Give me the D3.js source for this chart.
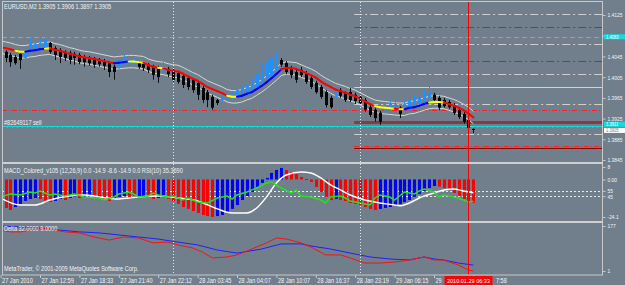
<!DOCTYPE html>
<html>
<head>
<meta charset="utf-8">
<script src="https://cdn.jsdelivr.net/npm/d3@7"></script>
<style>
  body { margin: 0; background: #707f8b; }
  svg { display: block; }
  text { font-family: "Liberation Sans", Arial, sans-serif; }
</style>
</head>
<body>
<svg id="chart" width="625" height="285"></svg>
<script>
// ---- data: EURUSD M2, 97 bars ----
const candleOpen = [1.4057,1.4054,1.4048,1.4044,1.4050,1.4042,1.4054,1.4057,1.4061,1.4063,
  1.4071,1.4061,1.4057,1.4054,1.4052,1.4050,1.4048,1.4044,1.4042,1.4042,
  1.4038,1.4036,1.4032,1.4025,1.4025,1.4032,1.4030,1.4030,1.4032,1.4030,
  1.4029,1.4025,1.4023,1.4015,1.4021,1.4019,1.4013,1.4007,1.4003,1.4000,
  1.3994,1.3984,1.3976,1.3967,1.3961,1.3961,1.3963,1.3965,1.3967,1.3969,
  1.3971,1.3976,1.3984,1.3992,1.4002,1.4009,1.4019,1.4038,1.4032,1.4023,
  1.4015,1.4019,1.4013,1.4003,1.3994,1.3986,1.3976,1.3965,1.3967,1.3980,
  1.3975,1.3976,1.3971,1.3967,1.3961,1.3947,1.3942,1.3936,1.3938,1.3946,
  1.3946,1.3946,1.3942,1.3947,1.3949,1.3955,1.3957,1.3965,1.3971,1.3965,
  1.3961,1.3957,1.3951,1.3942,1.3934,1.3922,1.3905];
const candleHigh = [1.4061,1.4057,1.4052,1.4048,1.4054,1.4057,1.4081,1.4075,1.4077,1.4086,
  1.4073,1.4065,1.4061,1.4057,1.4056,1.4054,1.4052,1.4048,1.4046,1.4044,
  1.4042,1.4040,1.4036,1.4029,1.4044,1.4048,1.4044,1.4042,1.4036,1.4034,
  1.4032,1.4029,1.4027,1.4034,1.4025,1.4023,1.4017,1.4011,1.4007,1.4003,
  1.3998,1.3988,1.3980,1.3971,1.3963,1.3973,1.3975,1.3978,1.3984,1.3988,
  1.3994,1.4003,1.4019,1.4030,1.4042,1.4050,1.4054,1.4042,1.4036,1.4027,
  1.4019,1.4025,1.4017,1.4007,1.3998,1.3990,1.3980,1.3969,1.3980,1.3984,
  1.3978,1.3984,1.3975,1.3971,1.3965,1.3951,1.3946,1.3940,1.3953,1.3961,
  1.3957,1.3949,1.3959,1.3969,1.3971,1.3975,1.3980,1.3986,1.3975,1.3969,
  1.3965,1.3961,1.3955,1.3946,1.3938,1.3926,1.3906];
const candleLow = [1.4044,1.4034,1.4025,1.4029,1.4021,1.4038,1.4052,1.4056,1.4059,1.4061,
  1.4050,1.4038,1.4032,1.4036,1.4030,1.4029,1.4030,1.4025,1.4027,1.4023,
  1.4025,1.4019,1.4005,1.4000,1.4021,1.4029,1.4027,1.4027,1.4021,1.4017,
  1.4013,1.4000,1.3994,1.4011,1.4005,1.3996,1.3992,1.3984,1.3980,1.3975,
  1.3961,1.3955,1.3947,1.3942,1.3951,1.3959,1.3961,1.3963,1.3965,1.3967,
  1.3969,1.3975,1.3982,1.3990,1.4000,1.4007,1.4017,1.4025,1.4011,1.4003,
  1.3994,1.4005,1.3992,1.3982,1.3973,1.3963,1.3946,1.3944,1.3965,1.3965,
  1.3957,1.3957,1.3953,1.3951,1.3938,1.3928,1.3919,1.3913,1.3936,1.3944,
  1.3944,1.3926,1.3940,1.3946,1.3947,1.3953,1.3955,1.3963,1.3957,1.3942,
  1.3946,1.3944,1.3932,1.3924,1.3915,1.3903,1.3897];
const candleClose = [1.4048,1.4042,1.4034,1.4032,1.4038,1.4054,1.4073,1.4069,1.4071,1.4077,
  1.4054,1.4048,1.4044,1.4042,1.4038,1.4042,1.4034,1.4034,1.4032,1.4029,
  1.4030,1.4027,1.4015,1.4015,1.4038,1.4042,1.4040,1.4038,1.4025,1.4023,
  1.4019,1.4009,1.4005,1.4023,1.4011,1.4000,1.3996,1.3990,1.3986,1.3980,
  1.3971,1.3961,1.3961,1.3946,1.3955,1.3969,1.3971,1.3975,1.3980,1.3984,
  1.3990,1.4000,1.4013,1.4025,1.4034,1.4044,1.4048,1.4029,1.4015,1.4009,
  1.4000,1.4009,1.3996,1.3986,1.3976,1.3967,1.3951,1.3947,1.3975,1.3969,
  1.3961,1.3961,1.3959,1.3955,1.3942,1.3932,1.3926,1.3919,1.3947,1.3955,
  1.3951,1.3934,1.3953,1.3961,1.3963,1.3967,1.3969,1.3975,1.3961,1.3946,
  1.3949,1.3947,1.3936,1.3928,1.3919,1.3907,1.3905];

// colored moving average and its envelope
const maLine = [1.4063,1.4061,1.4059,1.4056,1.4054,1.4054,1.4056,1.4057,1.4059,1.4060,
  1.4061,1.4058,1.4056,1.4053,1.4050,1.4048,1.4045,1.4043,1.4042,1.4040,
  1.4038,1.4036,1.4034,1.4032,1.4033,1.4034,1.4035,1.4035,1.4034,1.4033,
  1.4028,1.4025,1.4023,1.4022,1.4019,1.4017,1.4016,1.4012,1.4007,1.4002,
  1.3998,1.3992,1.3986,1.3982,1.3978,1.3974,1.3969,1.3967,1.3967,1.3969,
  1.3973,1.3976,1.3982,1.3988,1.3995,1.4003,1.4011,1.4020,1.4023,1.4022,
  1.4021,1.4017,1.4013,1.4009,1.4004,1.3997,1.3991,1.3986,1.3981,1.3978,
  1.3975,1.3971,1.3968,1.3963,1.3958,1.3953,1.3949,1.3947,1.3946,1.3945,
  1.3944,1.3943,1.3943,1.3946,1.3947,1.3950,1.3953,1.3956,1.3957,1.3957,
  1.3956,1.3953,1.3950,1.3946,1.3941,1.3935,1.3927];
const maTrendRuns = [['r',4],['y',2],['b',4],['y',1],['r',13],['b',3],['y',3],['r',3],['y',1],
  ['r',13],['y',2],['b',9],['r',19],['y',4],['r',1],['y',1],['b',5],['y',3],['r',6]];
const bandHigh = [1.4075,1.4073,1.4071,1.4068,1.4066,1.4066,1.4068,1.4069,1.4071,1.4072,
  1.4073,1.4070,1.4068,1.4065,1.4062,1.4060,1.4057,1.4055,1.4054,1.4052,
  1.4050,1.4048,1.4046,1.4044,1.4045,1.4046,1.4047,1.4047,1.4046,1.4045,
  1.4040,1.4037,1.4035,1.4034,1.4031,1.4029,1.4028,1.4024,1.4019,1.4014,
  1.4010,1.4004,1.3998,1.3994,1.3990,1.3986,1.3981,1.3979,1.3979,1.3981,
  1.3985,1.3988,1.3994,1.4000,1.4007,1.4015,1.4023,1.4032,1.4035,1.4034,
  1.4033,1.4029,1.4025,1.4021,1.4016,1.4009,1.4003,1.3998,1.3993,1.3990,
  1.3987,1.3983,1.3980,1.3975,1.3970,1.3965,1.3961,1.3959,1.3958,1.3957,
  1.3956,1.3955,1.3955,1.3958,1.3959,1.3962,1.3965,1.3968,1.3969,1.3969,
  1.3968,1.3965,1.3962,1.3958,1.3953,1.3947,1.3939];
const bandLow = [1.4051,1.4049,1.4047,1.4044,1.4042,1.4042,1.4044,1.4045,1.4047,1.4048,
  1.4049,1.4046,1.4044,1.4041,1.4038,1.4036,1.4033,1.4031,1.4030,1.4028,
  1.4026,1.4024,1.4022,1.4020,1.4021,1.4022,1.4023,1.4023,1.4022,1.4021,
  1.4016,1.4013,1.4011,1.4010,1.4007,1.4005,1.4004,1.4000,1.3995,1.3990,
  1.3986,1.3980,1.3974,1.3970,1.3966,1.3962,1.3957,1.3955,1.3955,1.3957,
  1.3961,1.3964,1.3970,1.3976,1.3983,1.3991,1.3999,1.4008,1.4011,1.4010,
  1.4009,1.4005,1.4001,1.3997,1.3992,1.3985,1.3979,1.3974,1.3969,1.3966,
  1.3963,1.3959,1.3956,1.3951,1.3946,1.3941,1.3937,1.3935,1.3934,1.3933,
  1.3932,1.3931,1.3931,1.3934,1.3935,1.3938,1.3941,1.3944,1.3945,1.3945,
  1.3944,1.3941,1.3938,1.3934,1.3929,1.3923,1.3915];

// MACD_Colored histogram, signal line, RSI(10)
const macdHist = [-16.4,-18.3,-19.6,-17.7,-15.7,-13.8,-12.5,-11.9,-12.5,-13.8,
  -14.5,-13.8,-12.5,-13.2,-11.9,-11.2,-11.9,-11.2,-10.6,-11.2,
  -11.9,-13.2,-13.8,-12.5,-11.2,-10.6,-11.2,-11.9,-11.2,-10.6,
  -11.2,-12.5,-11.9,-11.2,-12.5,-13.8,-15.7,-17.7,-18.9,-20.2,
  -21.5,-22.8,-23.5,-24.1,-23.5,-22.8,-20.9,-18.9,-16.4,-13.2,
  -10.6,-8.0,-4.8,-2.2,1.0,4.2,6.1,7.4,6.1,4.8,
  3.5,1.6,0.3,-1.6,-4.8,-8.0,-11.2,-13.2,-12.5,-13.2,
  -13.8,-15.1,-15.7,-16.4,-17.7,-18.9,-19.6,-18.9,-18.3,-17.7,
  -16.4,-15.7,-14.5,-13.2,-11.2,-9.3,-7.4,-5.5,-4.2,-4.5,
  -5.5,-6.7,-8.7,-10.6,-12.5,-13.8,-14.9];
const macdColorRuns = [['r',3],['b',5],['r',3],['b',2],['r',1],['b',2],['r',1],['b',2],['r',4],['b',3],
  ['r',2],['b',2],['r',2],['b',2],['r',10],['b',14],['r',10],['b',1],['r',8],['b',12],['r',8]];
const macdSignal = [[0,-11.9],[4,-16.4],[7,-16.4],[10,-13.2],[14,-10.6],[17,-10.0],[20,-11.2],[24,-12.5],
  [28,-11.2],[32,-10.6],[36,-11.9],[40,-13.8],[44,-18.9],[47,-21.5],[50,-21.5],[52,-18.3],[54,-11.2],
  [56,-2.2],[58,2.9],[61,4.8],[63,4.2],[65,1.0],[67,-3.5],[69,-6.7],[71,-10.0],[74,-13.2],[77,-15.1],
  [80,-16.4],[81,-16.9],[83,-15.1],[85,-11.9],[88,-8.7],[90,-6.7],[92,-6.1],[94,-7.4],[96,-8.6]];
const rsi = [[0,43.4],[2,49],[4,47.2],[6,52.8],[7,50.9],[8,54.7],[10,47.2],[11,49],[13,45.3],[15,49],
  [17,43.4],[20,41.5],[21,37.7],[23,43.4],[24,49],[26,52.8],[27,49],[28,43.4],[30,45.3],[31,50.9],
  [32,47.2],[34,43.4],[35,45.3],[37,37.7],[38,41.5],[39,37.7],[40,34],[42,32],[44,41.5],[46,45.3],
  [47,39.6],[48,47.2],[50,52.8],[52,60.4],[54,69.8],[55,71.7],[57,60.4],[59,50.9],[60,56.6],[61,45.3],
  [63,43.4],[65,37.7],[66,32],[67,43.4],[69,45.3],[70,41.5],[71,35.8],[73,32],[75,28.3],[76,41.5],
  [77,47.2],[79,43.4],[80,37.7],[81,45.3],[82,52.8],[84,49],[85,54.7],[86,58.5],[88,52.8],[89,43.4],
  [90,47.2],[92,43.4],[94,37.7],[95,34],[96,35.37]];
const rsiLevels = [55, 45];

// Delta(32,9)
const deltaBlue = [[0,177],[4,173],[8,169],[12,161],[16,154],[20,150],[24,142],[28,134],[32,126],
  [36,114],[40,103],[44,83],[48,71],[53,87],[57,107],[61,107],[63,99],[67,87],[71,71],[75,56],
  [79,48],[83,44],[86,56],[88,48],[90,44],[93,32],[96,24]];
const deltaRed = [[0,161],[2,154],[4,154],[6,161],[9,169],[11,161],[13,154],[16,150],[19,134],
  [22,122],[25,134],[28,130],[31,111],[34,114],[36,103],[39,91],[41,75],[43,52],[46,56],[48,64],
  [50,79],[54,111],[56,130],[58,126],[61,111],[63,95],[66,64],[69,64],[71,52],[74,32],[77,32],
  [80,36],[83,44],[86,56],[88,44],[90,44],[93,24],[95,5],[96,1]];

// price levels / objects
const priceTicks = [1.4125, 1.4085, 1.4045, 1.4005, 1.3965, 1.3925, 1.3885, 1.3845];
const grayLevels = [1.4127, 1.4069, 1.4011, 1.3953, 1.3895];
const blueLevels = [1.4102, 1.4036];
const yellowLevels = [1.3986];
const brownLevels = [1.3919];
const redRightLevels = [1.3872];
const darkRedLevels = [1.3868];
const levelStartBar = 72;
const cyanDashLevels = [1.4083];
const redDashLevels = [1.3942];
const orderLevel = 1.3911;
const orderLabel = '#82649117 sell';
const bidPrice = 1.3905;
const separatorBars = [35, 73];
const cursorBar = 95;
const cursorLabel = '2010.01.29 06:33';

const macdTicks = [8, 0, -24.1];
const macdTickLabels = ['8', '0.00', '-24.1'];
const deltaTicks = [177, 1];

const timeBars = [0, 8, 16, 24, 32, 40, 48, 56, 64, 72, 80, 88, 96];
const timeLabels = ['27 Jan 2010', '27 Jan 12:59', '27 Jan 18:33', '27 Jan 21:40', '27 Jan 22:12',
  '28 Jan 03:45', '28 Jan 04:07', '28 Jan 10:07', '28 Jan 16:37', '28 Jan 23:19',
  '29 Jan 06:15', '29 Jan 06:25', '29 Jan 07:58'];

const titleText = 'EURUSD,M2  1.3905 1.3906 1.3897 1.3905';
const macdTitle = 'MACD_Colored_v105 (12,26,9) 0.0 -14.9 -8.6 -14.9 0.0  RSI(10) 35.3690';
const deltaTitle = 'Delta 32.0000 9.0000';
const copyright = 'MetaTrader, \u00a9 2001-2009 MetaQuotes Software Corp.';

// ---- layout ----
const W = 625, H = 285;
const left = 2, right = 602;
const frameCol = '#c8c8c8';
const textCol = '#f4f4f4';
const NARROW = 0.82;   // MT4 pixel font is narrower than Liberation Sans

const svg = d3.select('#chart');
svg.append('rect').attr('width', W).attr('height', H).attr('fill', '#707f8b');

const x = d3.scaleLinear().domain([0, 96]).range([0.6, 473.4]);
const yPrice = d3.scaleLinear().domain([1.3845, 1.4125]).range([160, 15]);
const yMacd = d3.scaleLinear().domain([-24.1, 8]).range([217, 167]);
const yRsi = d3.scaleLinear().domain([0, 100]).range([220, 167]);
const yDelta = d3.scaleLinear().domain([1, 177]).range([271, 226]);

const px = v => Math.round(v) + 0.5;

const defs = svg.append('defs');
[['clipMain', 2, 162], ['clipMacd', 164, 221], ['clipDelta', 223, 274]].forEach(([id, y0, y1]) => {
  defs.append('clipPath').attr('id', id)
    .append('rect').attr('x', left).attr('y', y0).attr('width', right - left).attr('height', y1 - y0);
});

const expand = runs => runs.flatMap(([c, n]) => Array(n).fill(c));
const maTrend = expand(maTrendRuns);
const macdColors = expand(macdColorRuns);
const trendCol = { r: '#ff0000', b: '#0000ff', y: '#ffff00' };

// ---- main pane ----
const main = svg.append('g').attr('clip-path', 'url(#clipMain)');

function levels(g, values, x0, stroke, width, dash) {
  g.selectAll(null).data(values).join('line')
    .attr('x1', x0).attr('x2', right)
    .attr('y1', d => px(yPrice(d))).attr('y2', d => px(yPrice(d)))
    .attr('stroke', stroke).attr('stroke-width', width)
    .attr('stroke-dasharray', dash || null);
}

const lx = x(levelStartBar) - 1;
levels(main, grayLevels, lx, '#cfcfcf', 1, '8,3,2,3');
levels(main, blueLevels, lx, '#3a48c8', 1, '8,3,2,3');
levels(main, yellowLevels, lx, '#e6e633', 1);
levels(main, brownLevels, lx, '#7d3f45', 3);
levels(main, redRightLevels, lx, '#ff2020', 1, '5,2,1,2');
levels(main, darkRedLevels, lx, '#8a0000', 1);
levels(main, cyanDashLevels, left, '#18d8e0', 1, '5,3');
levels(main, redDashLevels, left, '#ff2020', 1, '5,2,1,2');
levels(main, [orderLevel], left, '#18d8e0', 1);
main.selectAll(null).data([orderLevel]).join('line')
  .attr('x1', left).attr('x2', right)
  .attr('y1', d => px(yPrice(d)) + 1).attr('y2', d => px(yPrice(d)) + 1)
  .attr('stroke', '#30e030').attr('stroke-width', 1).attr('stroke-dasharray', '1,4');

// envelope
const bandLine = arr => d3.line().x((d, i) => x(i)).y(d => yPrice(d))(arr);
main.append('path').attr('d', bandLine(bandHigh)).attr('fill', 'none').attr('stroke', '#d8d8d8').attr('stroke-width', 1);
main.append('path').attr('d', bandLine(bandLow)).attr('fill', 'none').attr('stroke', '#d8d8d8').attr('stroke-width', 1);

// candles
const bars = d3.range(candleOpen.length);
const candle = main.append('g').selectAll('g').data(bars).join('g');
candle.append('line')
  .attr('x1', i => px(x(i))).attr('x2', i => px(x(i)))
  .attr('y1', i => yPrice(candleHigh[i])).attr('y2', i => yPrice(candleLow[i]))
  .attr('stroke', i => candleClose[i] > candleOpen[i] ? '#1e90ff' : '#101010')
  .attr('stroke-width', 1);
candle.append('rect')
  .attr('x', i => Math.round(x(i)) - 1)
  .attr('width', 3)
  .attr('y', i => yPrice(Math.max(candleOpen[i], candleClose[i])))
  .attr('height', i => Math.max(1, Math.abs(yPrice(candleOpen[i]) - yPrice(candleClose[i]))))
  .attr('fill', i => candleClose[i] > candleOpen[i] ? '#1e90ff' : '#000000');

// colored MA
main.append('g').selectAll('line').data(bars.slice(1)).join('line')
  .attr('x1', i => x(i - 1)).attr('y1', i => yPrice(maLine[i - 1]))
  .attr('x2', i => x(i)).attr('y2', i => yPrice(maLine[i]))
  .attr('stroke', i => trendCol[maTrend[i]])
  .attr('stroke-width', 2).attr('stroke-linecap', 'round');

// ---- MACD / RSI pane ----
const macd = svg.append('g').attr('clip-path', 'url(#clipMacd)');
macd.selectAll(null).data(rsiLevels).join('line')
  .attr('x1', left).attr('x2', right)
  .attr('y1', d => px(yRsi(d))).attr('y2', d => px(yRsi(d)))
  .attr('stroke', '#e8e8e8').attr('stroke-dasharray', '2,2');
macd.append('g').selectAll('rect').data(bars).join('rect')
  .attr('x', i => Math.round(x(i)) - 1)
  .attr('width', 3)
  .attr('y', i => Math.min(yMacd(0), yMacd(macdHist[i])))
  .attr('height', i => Math.max(1, Math.abs(yMacd(macdHist[i]) - yMacd(0))))
  .attr('fill', i => macdColors[i] === 'r' ? '#ff0000' : '#0000ff');
macd.append('path')
  .attr('d', d3.line().curve(d3.curveMonotoneX).x(d => x(d[0])).y(d => yMacd(d[1]))(macdSignal))
  .attr('fill', 'none').attr('stroke', '#ffffff').attr('stroke-width', 1.5);
macd.append('path')
  .attr('d', d3.line().x(d => x(d[0])).y(d => yRsi(d[1]))(rsi))
  .attr('fill', 'none').attr('stroke', '#22e022').attr('stroke-width', 1.5);

// ---- Delta pane ----
const delta = svg.append('g').attr('clip-path', 'url(#clipDelta)');
const dLine = d3.line().x(d => x(d[0])).y(d => yDelta(d[1]));
delta.append('path').attr('d', dLine(deltaBlue)).attr('fill', 'none').attr('stroke', '#2020ff').attr('stroke-width', 1);
delta.append('path').attr('d', dLine(deltaRed)).attr('fill', 'none').attr('stroke', '#ff1010').attr('stroke-width', 1);

// ---- vertical separators and cursor ----
svg.selectAll(null).data(separatorBars).join('line')
  .attr('x1', d => px(x(d))).attr('x2', d => px(x(d)))
  .attr('y1', 2).attr('y2', 275)
  .attr('stroke', '#e8e8e8').attr('stroke-dasharray', '1,2');
svg.append('line')
  .attr('x1', px(x(cursorBar))).attr('x2', px(x(cursorBar)))
  .attr('y1', 2).attr('y2', 275)
  .attr('stroke', '#ff0000');

// ---- frame ----
svg.append('rect').attr('x', left + 0.5).attr('y', 1.5).attr('width', right - left).attr('height', 273.5)
  .attr('fill', 'none').attr('stroke', frameCol);
[163, 222].forEach(y => {
  svg.append('line').attr('x1', left).attr('x2', right + 1).attr('y1', y).attr('y2', y)
    .attr('stroke', '#d0d0d0').attr('stroke-width', 2);
});

// ---- right axes ----
function rightAxis(scale, ticks, fmt) {
  const g = svg.append('g').attr('transform', `translate(${right + 0.5},0)`)
    .call(d3.axisRight(scale).tickValues(ticks).tickSize(3).tickPadding(2).tickFormat(fmt));
  g.select('.domain').remove();
  g.selectAll('line').attr('stroke', frameCol);
  g.selectAll('text').attr('fill', textCol).attr('font-size', 6).attr('font-family', null);
  return g;
}
const priceAxis = rightAxis(yPrice, priceTicks, d3.format('.4f'));
rightAxis(yMacd, macdTicks, (d, i) => macdTickLabels[i]);
rightAxis(yRsi, rsiLevels, d3.format('d'));
rightAxis(yDelta, deltaTicks, d3.format('d'));

// price boxes on the axis (order box sits just above the bid box); a box hides the tick label under it
const boxes = [[cyanDashLevels[0], '#18d8e0', '#ffffff', 0], [orderLevel, '#18d8e0', '#ffffff', -1.5],
  [bidPrice, '#ffffff', '#707f8b', 1.5]];
priceAxis.selectAll('.tick').filter(d => boxes.some(b => Math.abs(yPrice(d) - yPrice(b[0]) - b[3]) < 5))
  .select('text').remove();
boxes.forEach(([value, fill, color, shift]) => {
  const y = yPrice(value) + shift;
  svg.append('rect').attr('x', right + 2).attr('y', y - 2.5).attr('width', 21).attr('height', 5).attr('fill', fill);
  svg.append('text').attr('x', right + 4).attr('y', y).attr('dy', '0.35em')
    .attr('fill', color).attr('font-size', 5).text(d3.format('.4f')(value));
});

// ---- time axis ----
const cx = x(cursorBar);
const boxL = cx - 24, boxR = cx + 24;
const tAxis = svg.append('g').attr('transform', 'translate(0,275)')
  .call(d3.axisBottom(x).tickValues(timeBars).tickSize(3).tickFormat((d, i) => timeLabels[i]));
tAxis.select('.domain').remove();
tAxis.selectAll('line').attr('stroke', frameCol);
tAxis.selectAll('text').attr('fill', textCol).attr('font-size', 6.8).attr('font-family', null)
  .attr('text-anchor', 'start').attr('dx', 1).attr('y', 3).attr('dy', '0.71em');

// labels that run under the cursor time box keep only their visible part
tAxis.selectAll('.tick text').each(function (d) {
  const t = d3.select(this);
  const x0 = x(d) + 1;
  const w = this.getComputedTextLength() * NARROW;
  if (x0 < boxL && x0 + w > boxL) {
    let s = t.text();
    while (s.length && x0 + this.getComputedTextLength() * NARROW > boxL - 1) { s = s.slice(0, -1); t.text(s); }
    t.text(s.trim());
  } else if (x0 < boxR && x0 + w > boxR) {
    const end = x0 + w;
    let s = t.text();
    while (s.length && end - this.getComputedTextLength() * NARROW < boxR + 2) { s = s.slice(1); t.text(s); }
    t.text(s.trim()).attr('dx', null).attr('x', boxR + 3 - x(d));
  }
});

// cursor time box
svg.append('rect').attr('x', boxL).attr('y', 276).attr('width', boxR - boxL).attr('height', 9).attr('fill', '#ff0000');
svg.append('text').attr('class', 'fixed').attr('x', cx).attr('y', 281).attr('dy', '0.35em').attr('text-anchor', 'middle')
  .attr('fill', '#ffffff').attr('font-size', 6.1).text(cursorLabel)
  .attr('textLength', 43).attr('lengthAdjust', 'spacingAndGlyphs');

// ---- labels ----
const label = (t, xx, yy, size) => svg.append('text').attr('x', xx).attr('y', yy).attr('dy', '0.35em')
  .attr('fill', textCol).attr('font-size', size).text(t);
label(titleText, 4, 7, 6.8);
label(orderLabel, 4, yPrice(orderLevel) - 3.5, 6.8);
label(macdTitle, 4, 171, 6.8);
label(deltaTitle, 4, 229, 6.8);
label(copyright, 4, 269, 6.8);

// squeeze every text to the narrow MT4 look
svg.selectAll('text:not(.fixed)').each(function () {
  const w = this.getComputedTextLength();
  if (w > 0) d3.select(this).attr('textLength', w * NARROW).attr('lengthAdjust', 'spacingAndGlyphs');
});
</script>
</body>
</html>
